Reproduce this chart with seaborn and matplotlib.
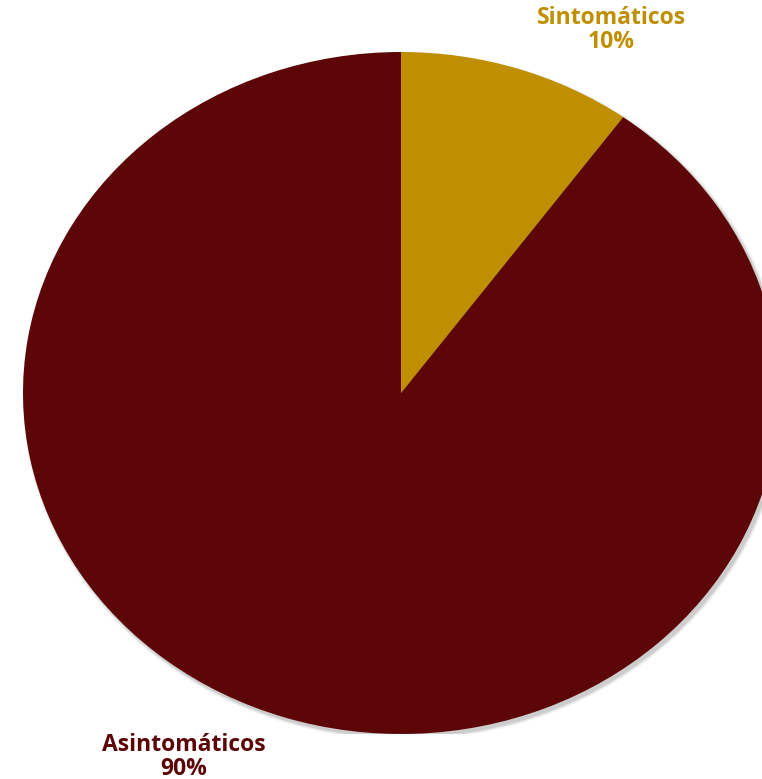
import matplotlib
matplotlib.use("Agg")
import matplotlib.pyplot as plt
from matplotlib.patches import Ellipse
import seaborn as sns

# data
categorias = ["Sintomáticos", "Asintomáticos"]
porcentajes = [10, 90]
colores = ["#BF8F00", "#5C0608"]

sns.set_style("white")
plt.rcParams['font.family'] = ['Open Sans', 'DejaVu Sans']

fig = plt.figure(figsize=(7.62, 7.79), dpi=100)
# axes larger than figure on the right so the pie gets clipped like the original
ax = fig.add_axes([23 / 762, 45 / 779, 756 / 762, 682 / 779])

# soft shadow under the pie
for i, a in enumerate([0.03, 0.04, 0.06, 0.08]):
    grow = 0.018 - i * 0.005
    ax.add_patch(Ellipse((0.007, -0.009), 2 + grow, 2 + grow, color="#000000",
                         alpha=a, lw=0, zorder=0))

wedges, _ = ax.pie(porcentajes, colors=colores, startangle=90, counterclock=False,
                   radius=1, wedgeprops=dict(linewidth=0, zorder=2))
ax.set_aspect("auto")
ax.set_xlim(-1, 1)
ax.set_ylim(-1, 1)
ax.axis("off")

# labels
posiciones = [(611 / 762, 1 - 30 / 779), (184 / 762, 1 - 757 / 779)]
for cat, val, col, (x, y) in zip(categorias, porcentajes, colores, posiciones):
    fig.text(x, y, f"{cat}\n{val}%", color=col, fontsize=16.5, fontweight="bold",
             ha="center", va="center", linespacing=0.95)

fig.savefig("out.png", dpi=100, facecolor="white")
